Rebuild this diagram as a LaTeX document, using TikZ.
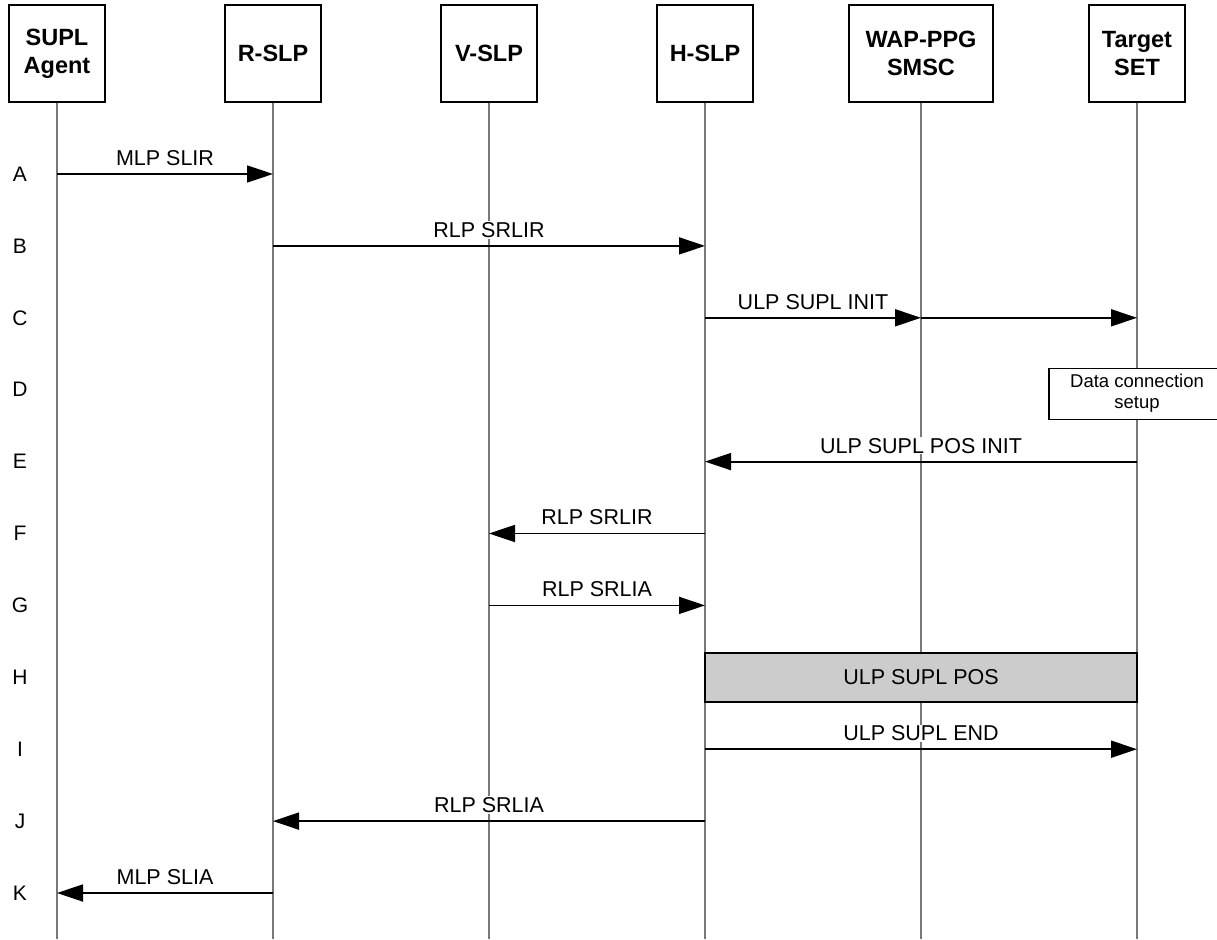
\documentclass[tikz,border=0pt]{standalone}
\usepackage{fontspec}
\setmainfont{Liberation Sans}
\usetikzlibrary{arrows.meta,calc}
\definecolor{lifegray}{RGB}{120,120,120}
\definecolor{posgray}{RGB}{204,204,204}
\begin{document}
\begin{tikzpicture}[x=1pt,y=-1pt,
  head/.style={draw=black, line width=1.6pt, fill=white, minimum width=96pt, minimum height=97pt,
    font=\fontsize{23.5}{28}\selectfont\bfseries, align=center, inner sep=0pt},
  life/.style={draw=lifegray, line width=1.2pt},
  msg/.style={line width=1.8pt, -{Triangle[length=26pt,width=17pt]}},
  lbl/.style={fill=white, inner sep=1pt, font=\fontsize{21.5}{24}\selectfont},
  rowlbl/.style={font=\fontsize{21}{24}\selectfont, inner sep=0pt},
  posbox/.style={draw=black, line width=1.6pt, fill=posgray, minimum width=432pt, minimum height=49pt,
    font=\fontsize{21.5}{24}\selectfont, inner sep=0pt},
  notebox/.style={draw=black, line width=1.4pt, fill=white, minimum width=176pt, minimum height=51pt,
    font=\fontsize{18.5}{21}\selectfont, align=center, inner sep=0pt}
]
\clip (0,0) rectangle (1217,939);
\fill[white] (0,0) rectangle (1217,939);

% headers
\node[head] (sa) at (57,53.5) {SUPL\\Agent};
\node[head] (rs) at (273,53.5) {R-SLP};
\node[head] (vs) at (489,53.5) {V-SLP};
\node[head] (hs) at (705,53.5) {H-SLP};
\node[head, minimum width=144pt] (wp) at (921,53.5) {WAP-PPG\\SMSC};
\node[head] (ts) at (1137,53.5) {Target\\SET};

% lane coordinates
\foreach \n/\x in {sa/57,rs/273,vs/489,hs/705,wp/921,ts/1137}{
  \coordinate (\n-end) at (\x,939);
  \foreach \r/\y in {A/174,B/245.9,C/317.8,D/389.7,E/461.6,F/533.5,G/605.4,H/677.3,I/749.2,J/821.1,K/893}{
    \coordinate (\n-\r) at (\x,\y);
  }
}

% lifelines
\foreach \n in {sa,rs,vs,hs,wp,ts}{
  \draw[life] (\n.south) -- (\n-end);
}

% row labels
\foreach \r/\y in {A/174,B/245.9,C/317.8,D/389.7,E/461.6,F/533.5,G/605.4,H/677.3,I/749.2,J/821.1,K/893}{
  \node[rowlbl] (row\r) at (20,\y) {\r};
}

% messages
\draw[msg] (sa-A) -- (rs-A) node[midway, yshift=16pt, lbl] (lA) {MLP SLIR};
\draw[msg] (rs-B) -- (hs-B) node[midway, yshift=16pt, lbl] (lB) {RLP SRLIR};
\draw[msg] (hs-C) -- (wp-C) node[midway, yshift=16pt, lbl] (lC) {ULP SUPL INIT};
\draw[msg] (wp-C) -- (ts-C);
\node[notebox] (dcs) at ($(ts-D)+(0,4)$) {Data connection\\setup};
\draw[msg] (ts-E) -- (hs-E) node[midway, yshift=16pt, lbl] (lE) {ULP SUPL POS INIT};
\draw[msg] (hs-F) -- (vs-F) node[midway, yshift=16pt, lbl] (lF) {RLP SRLIR};
\draw[msg] (vs-G) -- (hs-G) node[midway, yshift=16pt, lbl] (lG) {RLP SRLIA};
\node[posbox] (pos) at ($(hs-H)!0.5!(ts-H)$) {ULP SUPL POS};
\draw[msg] (hs-I) -- (ts-I) node[midway, yshift=16pt, lbl] (lI) {ULP SUPL END};
\draw[msg] (hs-J) -- (rs-J) node[midway, yshift=16pt, lbl] (lJ) {RLP SRLIA};
\draw[msg] (rs-K) -- (sa-K) node[midway, yshift=16pt, lbl] (lK) {MLP SLIA};
\end{tikzpicture}
\end{document}
